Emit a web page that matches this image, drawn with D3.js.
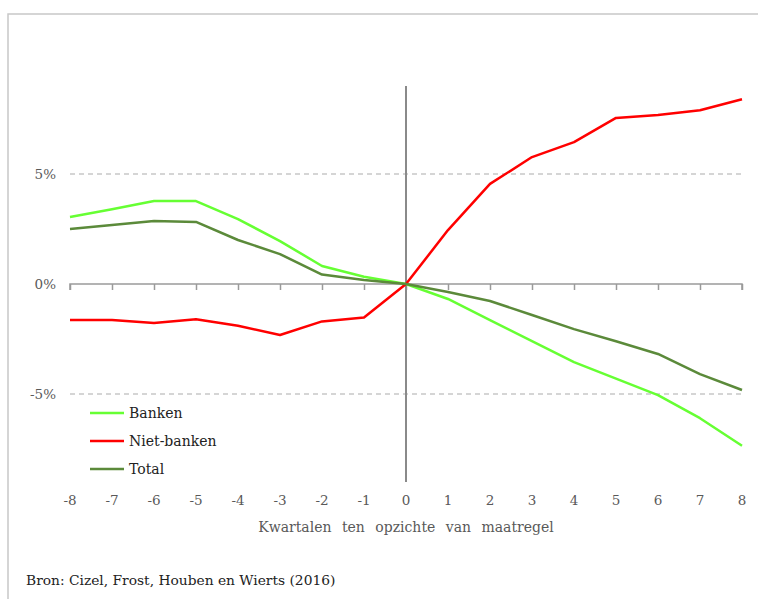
<!DOCTYPE html>
<html>
<head>
<meta charset="utf-8">
<script src="https://cdn.jsdelivr.net/npm/d3@7"></script>
<style>
  body { margin: 0; background: #fff; overflow: hidden; }
  svg { display: block; overflow: hidden; }
  text { font-family: "DejaVu Serif", "Liberation Serif", serif; }
</style>
</head>
<body>
<div id="chart"></div>
<script>
// quarters relative to the measure
var quarters = [-8, -7, -6, -5, -4, -3, -2, -1, 0, 1, 2, 3, 4, 5, 6, 7, 8];
var banken = [3.05, 3.4, 3.77, 3.77, 2.95, 1.95, 0.82, 0.33, 0, -0.68, -1.64, -2.6, -3.55, -4.3, -5.05, -6.1, -7.35];
var nietBanken = [-1.64, -1.64, -1.77, -1.6, -1.9, -2.32, -1.7, -1.52, 0, 2.45, 4.55, 5.77, 6.45, 7.55, 7.68, 7.9, 8.4];
var total = [2.5, 2.68, 2.86, 2.82, 2.0, 1.36, 0.43, 0.18, 0, -0.36, -0.77, -1.41, -2.05, -2.6, -3.18, -4.1, -4.82];
var yTicks = [-5, 0, 5];
var yTickLabels = ["-5%", "0%", "5%"];
var seriesNames = ["Banken", "Niet-banken", "Total"];
var seriesColors = ["#66ff33", "#ff0000", "#5b8a3a"];

window.onload = function() {
  var width = 758, height = 599;

  var svg = d3.select("#chart")
              .append("svg")
              .attr("width", width)
              .attr("height", height);

  // outer frame (only top and left visible)
  svg.append("path")
     .attr("d", "M8," + height + "V14H" + width)
     .attr("fill", "none")
     .attr("stroke", "#c8c8c8")
     .attr("stroke-width", 1.5);

  var x = d3.scaleLinear().domain([-8, 8]).range([70, 742]);
  var y = d3.scaleLinear().domain([-9, 9]).range([482, 86]);

  // dashed gridlines at +-5%
  svg.selectAll(".grid")
     .data(yTicks.filter(function(d) { return d !== 0; }))
     .enter()
     .append("line")
     .attr("x1", x(-8)).attr("x2", x(8))
     .attr("y1", function(d) { return y(d); })
     .attr("y2", function(d) { return y(d); })
     .attr("stroke", "#c8c8c8")
     .attr("stroke-width", 1.3)
     .attr("stroke-dasharray", "5,4");

  // horizontal axis at 0 with ticks down
  var xAxis = d3.axisBottom(x).tickValues(quarters).tickSize(6).tickFormat("");
  var gx = svg.append("g")
              .attr("transform", "translate(0," + y(0) + ")")
              .call(xAxis);
  gx.select(".domain").attr("stroke", "#9a9a9a").attr("stroke-width", 1.5).attr("d", "M" + x(-8) + ",6V0H" + x(8) + "V6");
  gx.selectAll(".tick line").attr("stroke", "#9a9a9a").attr("stroke-width", 1.5);

  // vertical line at 0
  svg.append("line")
     .attr("x1", x(0)).attr("x2", x(0))
     .attr("y1", y(9)).attr("y2", y(-9))
     .attr("stroke", "#8a8a8a")
     .attr("stroke-width", 2);

  // x tick labels
  svg.selectAll(".xlab")
     .data(quarters)
     .enter()
     .append("text")
     .attr("x", function(d) { return x(d); })
     .attr("y", 505)
     .attr("text-anchor", "middle")
     .attr("font-size", 13.5)
     .attr("fill", "#595959")
     .text(function(d) { return d; });

  // y tick labels
  svg.selectAll(".ylab")
     .data(yTicks)
     .enter()
     .append("text")
     .attr("x", 56)
     .attr("y", function(d) { return y(d) + 5; })
     .attr("text-anchor", "end")
     .attr("font-size", 13.5)
     .attr("fill", "#595959")
     .text(function(d, i) { return yTickLabels[i]; });

  // axis title
  svg.append("text")
     .attr("x", x(0))
     .attr("y", 532)
     .attr("text-anchor", "middle")
     .attr("font-size", 14)
     .attr("fill", "#595959")
     .attr("word-spacing", 6)
     .text("Kwartalen ten opzichte van maatregel");

  // lines
  var allSeries = [banken, nietBanken, total];
  var line = d3.line()
               .x(function(d, i) { return x(quarters[i]); })
               .y(function(d) { return y(d); });

  svg.selectAll(".series")
     .data(allSeries)
     .enter()
     .append("path")
     .attr("d", line)
     .attr("fill", "none")
     .attr("stroke", function(d, i) { return seriesColors[i]; })
     .attr("stroke-width", 2.5)
     .attr("stroke-linejoin", "round");

  // legend
  var legend = svg.selectAll(".legend")
                  .data(seriesNames)
                  .enter()
                  .append("g")
                  .attr("transform", function(d, i) { return "translate(90," + (413 + i * 28) + ")"; });
  legend.append("line")
        .attr("x1", 0).attr("x2", 34)
        .attr("stroke", function(d, i) { return seriesColors[i]; })
        .attr("stroke-width", 2.5);
  legend.append("text")
        .attr("x", 39)
        .attr("y", 5)
        .attr("font-size", 14)
        .attr("fill", "#222")
        .text(function(d) { return d; });

  // source
  svg.append("text")
     .attr("x", 26)
     .attr("y", 585)
     .attr("font-size", 13.8)
     .attr("fill", "#222")
     .text("Bron: Cizel, Frost, Houben en Wierts (2016)");
};
</script>
</body>
</html>
